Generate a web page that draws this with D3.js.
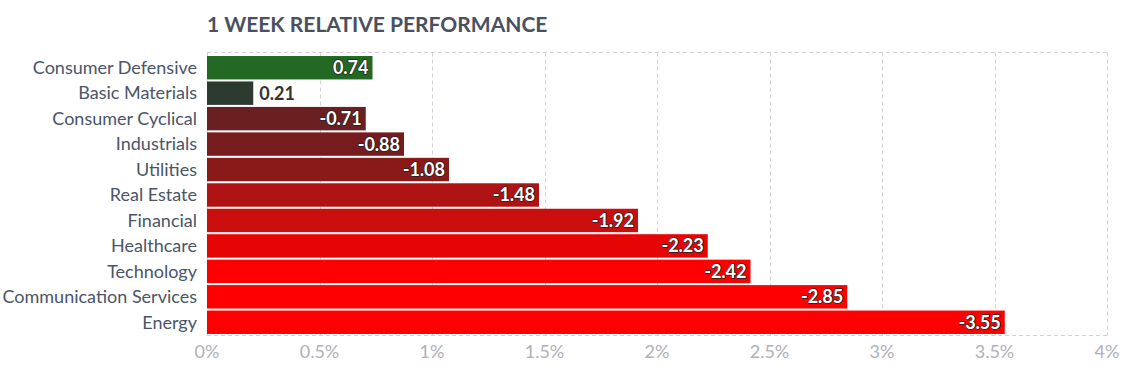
<!DOCTYPE html>
<html>
<head>
<meta charset="utf-8">
<script src="https://cdn.jsdelivr.net/npm/d3@7"></script>
<style>
    body { margin: 0; background: #fff; font-family: Lato, "Open Sans", sans-serif; }
    #chart { width: 1126px; height: 370px; }
</style>
</head>
<body>
<div id="chart"></div>
<script>
const sectors = ["Consumer Defensive", "Basic Materials", "Consumer Cyclical", "Industrials", "Utilities",
    "Real Estate", "Financial", "Healthcare", "Technology", "Communication Services", "Energy"];
const changes = [0.74, 0.21, -0.71, -0.88, -1.08, -1.48, -1.92, -2.23, -2.42, -2.85, -3.55];
const barColors = ["#236823", "#2c3b2f", "#6a1f21", "#771c1e", "#8a1a1a", "#ae1212",
    "#cc0d0d", "#e50505", "#ff0000", "#ff0000", "#ff0000"];
const xTicks = [0, 0.5, 1, 1.5, 2, 2.5, 3, 3.5, 4];

const width = 1126, height = 370;
const plotLeft = 207, plotRight = 1107, plotTop = 52.5, plotBottom = 335.5;

const svg = d3.select("#chart").append("svg")
    .attr("width", width)
    .attr("height", height);

const xScale = d3.scaleLinear().domain([0, 4]).range([plotLeft, plotRight]);
const yScale = d3.scaleBand().domain(sectors).range([55, 335]).paddingInner(0.08).paddingOuter(0.04);

svg.append("text")
    .attr("x", plotLeft)
    .attr("y", 32)
    .style("font-size", "21px")
    .style("font-weight", "bold")
    .style("fill", "#4a5060")
    .text("1 WEEK RELATIVE PERFORMANCE");

// grid
svg.selectAll(".vgrid")
    .data(xTicks)
    .enter()
    .append("line")
    .attr("x1", d => Math.round(xScale(d)) + 0.5)
    .attr("x2", d => Math.round(xScale(d)) + 0.5)
    .attr("y1", plotTop)
    .attr("y2", plotBottom)
    .style("stroke", "#d0d0d8")
    .style("stroke-dasharray", "4,3");

[plotTop, plotBottom].forEach(y => {
    svg.append("line")
        .attr("x1", plotLeft)
        .attr("x2", plotRight)
        .attr("y1", y)
        .attr("y2", y)
        .style("stroke", "#d0d0d8")
        .style("stroke-dasharray", "4,3");
});

svg.selectAll(".bar")
    .data(changes)
    .enter()
    .append("rect")
    .attr("x", xScale(0))
    .attr("y", (d, i) => yScale(sectors[i]))
    .attr("width", d => xScale(Math.abs(d)) - xScale(0) - 1)
    .attr("height", yScale.bandwidth())
    .style("fill", (d, i) => barColors[i]);

// category labels
svg.selectAll(".cat")
    .data(sectors)
    .enter()
    .append("text")
    .attr("x", 197)
    .attr("y", d => yScale(d) + yScale.bandwidth() / 2)
    .attr("dy", "0.35em")
    .attr("text-anchor", "end")
    .style("font-size", "18px")
    .style("fill", "#4a5568")
    .text(d => d);

// value labels
svg.selectAll(".val")
    .data(changes)
    .enter()
    .append("text")
    .each(function(d, i) {
        const barEnd = xScale(Math.abs(d));
        const inside = barEnd - xScale(0) > 60;
        d3.select(this)
            .attr("x", inside ? barEnd - 5 : barEnd + 5)
            .attr("text-anchor", inside ? "end" : "start")
            .style("fill", inside ? "#fff" : "#333")
            .style("stroke", inside ? "#222" : "none")
            .style("stroke-width", inside ? 1.5 : 0)
            .style("stroke-linejoin", "round")
            .style("paint-order", "stroke");
    })
    .attr("y", (d, i) => yScale(sectors[i]) + yScale.bandwidth() / 2)
    .attr("dy", "0.36em")
    .style("font-size", "18px")
    .style("font-weight", "bold")
    .text(d => d.toFixed(2));

// x axis labels
svg.selectAll(".xtick")
    .data(xTicks)
    .enter()
    .append("text")
    .attr("x", d => xScale(d))
    .attr("y", 358)
    .attr("text-anchor", "middle")
    .style("font-size", "18px")
    .style("fill", "#b0b0b8")
    .text(d => d + "%");
</script>
</body>
</html>
